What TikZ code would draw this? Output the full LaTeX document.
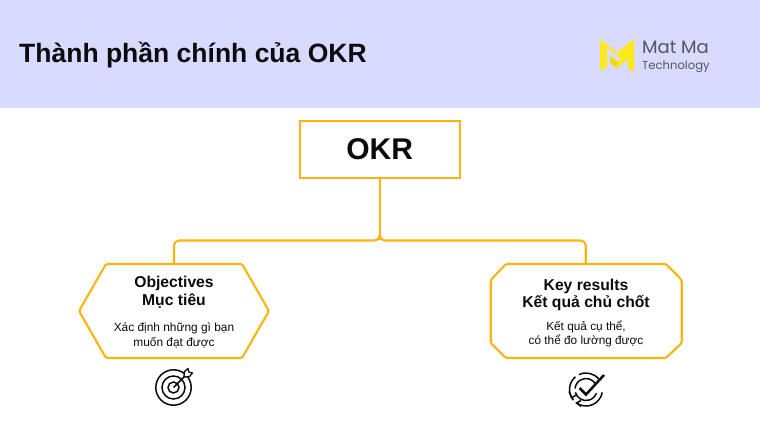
\documentclass[tikz,border=0pt]{standalone}
\usepackage{fontspec}
\setmainfont{Liberation Sans}
\newfontfamily\logofont{Poppins}
\definecolor{headerbg}{HTML}{D8DAFF}
\definecolor{linegold}{HTML}{FFB30F}
\definecolor{logoyellow}{HTML}{FFE81C}
\definecolor{logoshade}{HTML}{F0D800}
\definecolor{logotext}{HTML}{55565C}
\definecolor{ink}{HTML}{0B0B0D}
\tikzset{
  goldline/.style={draw=linegold,line width=2.1pt,line join=round},
  heading/.style={font=\bfseries\fontsize{15.7}{18}\selectfont,text=ink,align=center,inner sep=0pt},
  caption/.style={font=\fontsize{11.9}{15.5}\selectfont,text=ink,align=center,inner sep=0pt},
  iconline/.style={draw=ink,line width=1.5pt},
  iconscope/.style={yscale=-1},
}
\begin{document}
\begin{tikzpicture}[x=1pt,y=-1pt]
\useasboundingbox (0,0) rectangle (760,430);
\fill[white] (0,0) rectangle (760,430);
\fill[headerbg] (0,0) rectangle (760,108);
\node[anchor=west,inner sep=0pt,font=\bfseries\fontsize{26.5}{30}\selectfont,text=ink] (title) at (19,55) {Thành phần chính của OKR};

% logo mark: outer M with a slit on its left limb and a shaded inner chevron
\fill[logoyellow] (600,39) -- (617,52.5) -- (634,39) -- (634,72.5) -- (628,68) -- (628,59.5) -- (617,68) -- (610,62.5) -- (610,56) -- (617,61.5) -- (621,58.4) -- (607,47.5) -- (607,67) -- (600,71) -- cycle;
\fill[logoshade] (610,56) -- (617,61.5) -- (617,68) -- (610,62.5) -- cycle;
\node[anchor=west,inner sep=0pt,font=\logofont\fontsize{18}{20}\selectfont,text=logotext] (logoa) at (642,47) {Mat Ma};
\node[anchor=west,inner sep=0pt,font=\logofont\fontsize{11.6}{14}\selectfont,text=logotext] (logob) at (642,67) {Technology};

% boxes
\node[draw=linegold,line width=2.1pt,fill=white,minimum width=160pt,minimum height=57pt,inner sep=0pt,font=\bfseries\fontsize{30}{36}\selectfont,text=ink] (okr) at (379.7,149.2) {OKR};
\coordinate (objtop) at (174,264);
\coordinate (krtop) at (585.7,264);
\coordinate (trunk) at (379.7,240.5);
\draw[goldline] (okr.south) -- (trunk);
\draw[goldline] (objtop) -- (174,245.5) arc[start angle=180,end angle=270,radius=5] -- (374.7,240.5) arc[start angle=90,end angle=0,radius=5];
\draw[goldline] (krtop) -- (585.7,245.5) arc[start angle=0,end angle=-90,radius=5] -- (384.7,240.5) arc[start angle=90,end angle=180,radius=5];

% objectives hexagon
\draw[goldline,fill=white,rounded corners=1.5pt] (106,264) -- (242,264) -- (269,311) -- (242,358) -- (106,358) -- (79,311) -- cycle;
\node[heading] (objh) at (174,292.5) {Objectives\\Mục tiêu};
\node[caption] (objc) at (174,335.5) {Xác định những gì bạn\\muốn đạt được};

% key results octagon
\draw[goldline,fill=white,rounded corners=1.5pt] (506,264) -- (666,264) -- (681.7,280) -- (681.7,343) -- (666,358) -- (506,358) -- (490.7,343) -- (490.7,280) -- cycle;
\node[heading,font=\bfseries\fontsize{15.7}{17}\selectfont] (krh) at (586,294.5) {Key results\\Kết quả chủ chốt};
\node[caption,font=\fontsize{11.8}{14.5}\selectfont] (krc) at (586,334) {Kết quả cụ thể,\\có thể đo lường được};

% target icon
\begin{scope}[shift={(173.5,387.5)},iconscope]
  \draw[iconline] (0,0) circle[radius=17.7];
  \draw[iconline] (0,0) circle[radius=11.5];
  \draw[iconline] (0,0) circle[radius=5.5];
  \draw[iconline] (0,0) -- (11.5,11.5);
  \draw[iconline,line width=1.3pt,line join=round,fill=white] (10.5,11.5) -- (11,16) -- (14.5,19) -- (15.5,15.5) -- (19,14.5) -- (16,11) -- (11.5,10.5) -- cycle;
\end{scope}

% check icon with circular arrows
\begin{scope}[shift={(586,389.5)},iconscope]
  \draw[iconline] (40:16.5) arc[start angle=40,end angle=115,radius=16.5];
  \draw[iconline] (130:16.5) arc[start angle=130,end angle=220,radius=16.5];
  \draw[iconline] (235:16.5) arc[start angle=235,end angle=350,radius=16.5];
  \draw[iconline] (-17,-2) -- (-14.2,-8.4) -- (-10,-5.5);
  \draw[iconline] (-5,-17) -- (-9.5,-13.5) -- (-5,-11);
  \draw[iconline] (30:11) arc[start angle=30,end angle=175,radius=11];
  \draw[iconline] (195:11) arc[start angle=195,end angle=340,radius=11];
  \draw[iconline,line width=2.5pt,line join=miter] (-6.5,1.5) -- (0,-5) -- (18,14.5);
\end{scope}
\end{tikzpicture}
\end{document}
